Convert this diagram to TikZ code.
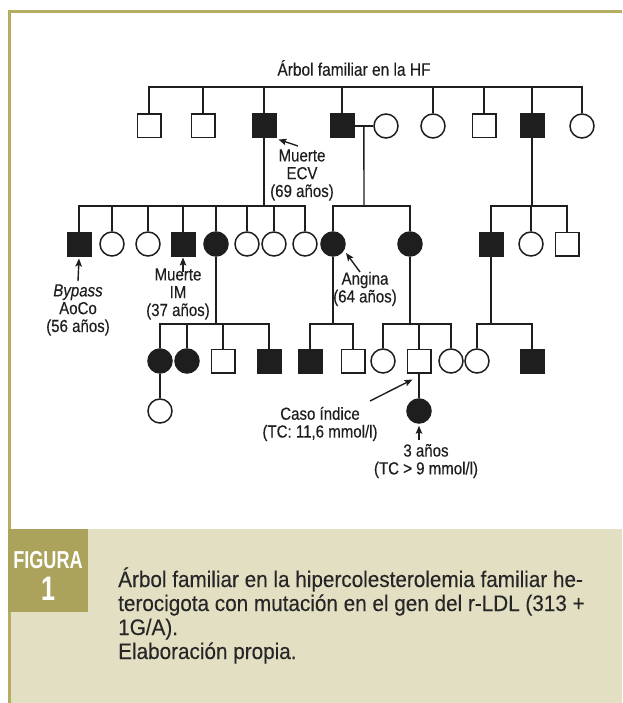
\documentclass[tikz,border=0pt]{standalone}
\usepackage{fontspec}
\newfontfamily\labf[FakeStretch=0.86,FakeBold=0.25]{Liberation Sans}
\newfontfamily\capf[FakeStretch=0.92,FakeBold=0.2]{Liberation Sans}
\newfontfamily\figf[FakeStretch=0.74]{Liberation Sans}
\usetikzlibrary{arrows.meta,calc}
\definecolor{border}{HTML}{B4AD63}
\definecolor{beige}{HTML}{E2DFC3}
\definecolor{olive}{HTML}{ABA25C}
\definecolor{ink}{HTML}{1E1E1E}
\definecolor{captxt}{HTML}{262626}
\begin{document}
\begin{tikzpicture}[x=1pt,y=-1pt,
  sq/.style={draw=ink,line width=1.5pt,shape=rectangle,minimum size=23.5pt,inner sep=0pt,fill=white},
  fsq/.style={sq,fill=ink},
  ci/.style={draw=ink,line width=1.5pt,shape=circle,minimum size=24pt,inner sep=0pt,fill=white},
  fci/.style={ci,fill=ink},
  ln/.style={draw=ink,line width=1.4pt},
  arr/.style={ln,-{Stealth[length=8pt,width=6.5pt,inset=1.5pt]}},
  lab/.style={font=\labf\fontsize{17.5}{17.8}\selectfont,align=center,inner sep=0pt,text=ink},
  capline/.style={anchor=base west,inner sep=0pt,font=\capf\fontsize{22.5}{24}\selectfont,text=captxt},
  figtxt/.style={inner sep=0pt,text=white,font=\figf\bfseries},
]
\useasboundingbox (0,0) rectangle (622,703);
\fill[white] (0,0) rectangle (622,703);
% frame and caption area
\fill[beige] (8,529) rectangle (622,703);
\draw[border,line width=3pt] (9.5,703) -- (9.5,11.5) -- (622,11.5);
\fill[olive] (8,529) rectangle (88,612);
\node[figtxt,font=\figf\bfseries\fontsize{24.5}{24.5}\selectfont] (fig) at (48,560) {FIGURA};
\node[figtxt,font=\figf\bfseries\fontsize{34}{34}\selectfont] (one) at (48,589) {1};
\node[capline] (cap1) at (118,587) {Árbol familiar en la hipercolesterolemia familiar he-};
\node[capline] (cap2) at (118,611) {terocigota con mutación en el gen del r-LDL (313 +};
\node[capline] (cap3) at (118,635) {1G/A).};
\node[capline] (cap4) at (118,659) {Elaboración propia.};

% title
\node[lab,font=\labf\fontsize{18}{18}\selectfont] (ttl) at (354,68) {Árbol familiar en la HF};

% generation 1
\node[sq]  (a1)  at (149,126) {};
\node[sq]  (a2)  at (203,126) {};
\node[fsq] (a3)  at (264,126) {};
\node[fsq] (a4)  at (342,126) {};
\node[ci]  (a4w) at (386,126) {};
\node[ci]  (a5)  at (433,126) {};
\node[sq]  (a6)  at (484,126) {};
\node[fsq] (a7)  at (532,126) {};
\node[ci]  (a8)  at (582,126) {};

% generation 2
\node[fsq] (b1)  at (79,244) {};
\node[ci]  (b2)  at (112,244) {};
\node[ci]  (b3)  at (148,244) {};
\node[fsq] (b4)  at (183,244) {};
\node[fci] (b5)  at (216,244) {};
\node[ci]  (b6)  at (247,244) {};
\node[ci]  (b7)  at (274,244) {};
\node[ci]  (b8)  at (305,244) {};
\node[fci] (b9)  at (333,244) {};
\node[fci] (b10) at (410,244) {};
\node[fsq] (b11) at (491,244) {};
\node[ci]  (b12) at (531,244) {};
\node[sq]  (b13) at (567,244) {};

% generation 3
\node[fci] (c1)  at (160,361) {};
\node[fci] (c2)  at (187,361) {};
\node[sq]  (c3)  at (223,361) {};
\node[fsq] (c4)  at (269,361) {};
\node[fsq] (c5)  at (310,361) {};
\node[sq]  (c6)  at (353,361) {};
\node[ci]  (c7)  at (383,361) {};
\node[sq]  (c8)  at (419,361) {};
\node[ci]  (c9)  at (451,361) {};
\node[ci]  (c10) at (477,361) {};
\node[fsq] (c11) at (532,361) {};

% generation 4
\node[ci]  (d1)  at (160,411) {};
\node[fci] (d2)  at (419,411) {};

% sibship lines
\coordinate (t) at (366,87);
\draw[ln] (a1.north) |- (t) -| (a8.north);
\foreach \n in {a2,a3,a4,a5,a6,a7} \draw[ln] (\n.north) -- (\n.north |- t);

\coordinate (f1) at (264,206);
\draw[ln] (a3.south) -- (f1);
\draw[ln] (b1.north) |- (f1) -| (b8.north);
\foreach \n in {b2,b3,b4,b5,b6,b7} \draw[ln] (\n.north) -- (\n.north |- f1);

\draw[ln] (a4.east) -- (a4w.west);
\coordinate (m1) at ($(a4.east)!0.5!(a4w.west)$);
\coordinate (f2) at (364,206);
\draw[ln] (m1) -- (f2);
\draw[ln] (b9.north) |- (f2) -| (b10.north);

\coordinate (f3) at (532,206);
\draw[ln] (a7.south) -- (f3);
\draw[ln] (b11.north) |- (f3) -| (b13.north);
\draw[ln] (b12.north) -- (b12.north |- f3);

\coordinate (f4) at (216,324);
\draw[ln] (b5.south) -- (f4);
\draw[ln] (c1.north) |- (f4) -| (c4.north);
\foreach \n in {c2,c3} \draw[ln] (\n.north) -- (\n.north |- f4);

\coordinate (f5) at (333,324);
\draw[ln] (b9.south) -- (f5);
\draw[ln] (c5.north) |- (f5) -| (c6.north);

\coordinate (f6) at (410,324);
\draw[ln] (b10.south) -- (f6);
\draw[ln] (c7.north) |- (f6) -| (c9.north);
\draw[ln] (c8.north) -- (c8.north |- f6);

\coordinate (f7) at (491,324);
\draw[ln] (b11.south) -- (f7);
\draw[ln] (c10.north) |- (f7) -| (c11.north);

\draw[ln] (c1.south) -- (d1.north);
\draw[ln] (c8.south) -- (d2.north);

% labels and arrows
\node[lab] (ecv) at (302,175) {Muerte\\ECV\\(69 años)};
\coordinate (ecvT) at (298,146);
\draw[arr] (ecvT) -- ([shift={(2,1)}]a3.south east);

\node[lab] (byp) at (78,310) {\textit{Bypass}\\AoCo\\(56 años)};
\coordinate (bypT) at (78,281);
\draw[arr] (bypT) -- ([yshift=-2pt]b1.south);

\node[lab] (im) at (178,294) {Muerte\\IM\\(37 años)};
\coordinate (imT) at (183,272);
\draw[arr] (imT) -- ([yshift=-1pt]b4.south);

\node[lab] (ang) at (365,289) {Angina\\(64 años)};
\coordinate (angT) at (360,272);
\draw[arr] (angT) -- ([shift={(4,0)}]b9.south east);

\node[lab] (caso) at (320,424) {Caso índice\\(TC: 11,6 mmol/l)};
\coordinate (casoT) at (370,401);
\draw[arr] (casoT) -- ([shift={(6,6)}]c8.south west);

\node[lab] (tres) at (426,461) {3 años\\(TC > 9 mmol/l)};
\coordinate (tresT) at (419,440);
\draw[arr] (tresT) -- ([yshift=-2pt]d2.south);
\end{tikzpicture}
\end{document}
